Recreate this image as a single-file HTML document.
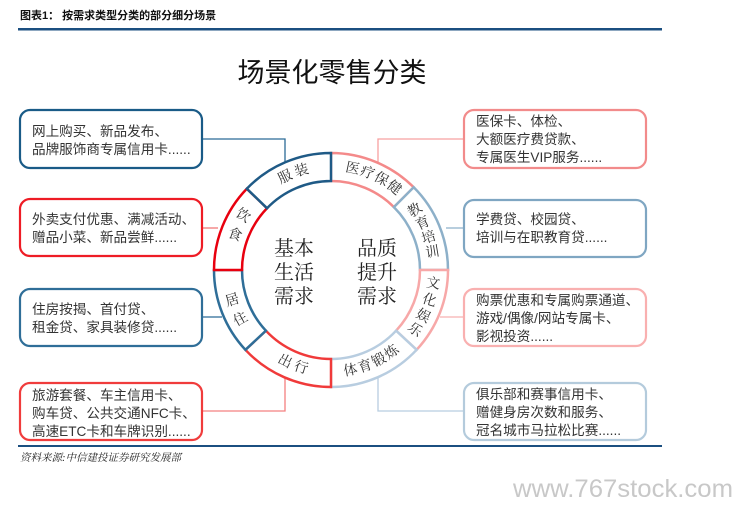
<!DOCTYPE html>
<html><head><meta charset="utf-8"><style>
html,body{margin:0;padding:0;background:#fff;width:735px;height:505px;overflow:hidden}
svg{display:block}
.bx{font-family:"Liberation Sans","Noto Sans CJK SC",sans-serif;font-size:13.6px;fill:#333}
.rg{font-family:"Liberation Serif","Noto Serif CJK SC",serif;font-size:14px;fill:#333}
.ct{font-family:"Liberation Serif","Noto Serif CJK SC",serif;font-size:20px;fill:#222}
</style></head><body>
<svg width="735" height="505" xmlns="http://www.w3.org/2000/svg">
<text x="20" y="19" font-family="Liberation Sans,Noto Sans CJK SC,sans-serif" font-size="11" font-weight="bold" fill="#111">图表1：  按需求类型分类的部分细分场景</text>
<rect x="18" y="28" width="644" height="2.5" fill="#1b4f80"/>
<text x="332" y="82" text-anchor="middle" font-family="Liberation Sans,Noto Sans CJK SC,sans-serif" font-size="27" fill="#111">场景化零售分类</text>

<g fill="none" stroke-width="1.3">
<polyline points="202,139 285,139 285,163" stroke="#2b6a96"/>
<polyline points="378,163 378,139 464,139" stroke="#f7a0a0"/>
<line x1="202" y1="228" x2="218" y2="228" stroke="#f27a7a"/>
<line x1="202" y1="317" x2="222" y2="317" stroke="#2b6a96"/>
<line x1="446" y1="228" x2="464" y2="228" stroke="#8db0c9"/>
<line x1="440" y1="317" x2="464" y2="317" stroke="#f7b0b0"/>
<polyline points="202,411 285,411 285,377" stroke="#f48080"/>
<polyline points="378,377 378,411 464,411" stroke="#b8cde0"/>
</g>

<g fill="#fff" stroke-width="2.2">
<rect x="20" y="110" width="182" height="58" rx="10" stroke="#1a5b87"/>
<rect x="20" y="199" width="182" height="57" rx="10" stroke="#ee1c25"/>
<rect x="20" y="289" width="182" height="57" rx="10" stroke="#2f6e98"/>
<rect x="20" y="383" width="182" height="57" rx="10" stroke="#f03c3c"/>
<rect x="464" y="110" width="182" height="58" rx="10" stroke="#f28b8b"/>
<rect x="464" y="200" width="182" height="57" rx="10" stroke="#7fa6c2"/>
<rect x="464" y="289" width="182" height="57" rx="10" stroke="#f9b0b0"/>
<rect x="464" y="383" width="182" height="57" rx="10" stroke="#b4cbdc"/>
</g>
<g class="bx">
<text x="32" y="136">网上购买、新品发布、</text>
<text x="32" y="154">品牌服饰商专属信用卡......</text>
<text x="32" y="224">外卖支付优惠、满减活动、</text>
<text x="32" y="242">赠品小菜、新品尝鲜......</text>
<text x="32" y="314">住房按揭、首付贷、</text>
<text x="32" y="332">租金贷、家具装修贷......</text>
<text x="32" y="400">旅游套餐、车主信用卡、</text>
<text x="32" y="418">购车贷、公共交通NFC卡、</text>
<text x="32" y="436">高速ETC卡和车牌识别......</text>
<text x="476" y="126">医保卡、体检、</text>
<text x="476" y="144">大额医疗费贷款、</text>
<text x="476" y="162">专属医生VIP服务......</text>
<text x="476" y="224">学费贷、校园贷、</text>
<text x="476" y="242">培训与在职教育贷......</text>
<text x="476" y="305">购票优惠和专属购票通道、</text>
<text x="476" y="323">游戏/偶像/网站专属卡、</text>
<text x="476" y="341">影视投资......</text>
<text x="476" y="399">俱乐部和赛事信用卡、</text>
<text x="476" y="417">赠健身房次数和服务、</text>
<text x="476" y="435">冠名城市马拉松比赛......</text>
</g>

<g fill="#fff" stroke-width="2.5" stroke-linejoin="miter">
<path d="M331,153 A117,117 0 0 1 413.7,187.3 L393.9,207.1 A89,89 0 0 0 331,181 Z" stroke="#f48a8a"/>
<path d="M413.7,187.3 A117,117 0 0 1 448,270 L420,270 A89,89 0 0 0 393.9,207.1 Z" stroke="#8db0c9"/>
<path d="M448,270 A117,117 0 0 1 416.6,349.8 L396.1,330.7 A89,89 0 0 0 420,270 Z" stroke="#f7a8a8"/>
<path d="M416.6,349.8 A117,117 0 0 1 331,387 L331,359 A89,89 0 0 0 396.1,330.7 Z" stroke="#b8cde0"/>
<path d="M331,387 A117,117 0 0 1 245.4,349.8 L265.9,330.7 A89,89 0 0 0 331,359 Z" stroke="#f03a3a"/>
<path d="M245.4,349.8 A117,117 0 0 1 214,270 L242,270 A89,89 0 0 0 265.9,330.7 Z" stroke="#2f6e98"/>
<path d="M214,270 A117,117 0 0 1 246.8,188.7 L267,208.2 A89,89 0 0 0 242,270 Z" stroke="#e8000f"/>
<path d="M246.8,188.7 A117,117 0 0 1 331,153 L331,181 A89,89 0 0 0 267,208.2 Z" stroke="#1f5a86"/>
</g>
<g class="rg" text-anchor="middle" dominant-baseline="central">
<text transform="translate(285.5,177.8) rotate(-26)">服</text>
<text transform="translate(301.8,171.3) rotate(-16.5)">装</text>
<text transform="translate(352.4,169.3) rotate(12)">医</text>
<text transform="translate(367.1,173.5) rotate(20.5)">疗</text>
<text transform="translate(380.9,179.9) rotate(29)">保</text>
<text transform="translate(393.7,188.3) rotate(37.5)">健</text>
<text transform="translate(415.4,210.9) rotate(-35)">教</text>
<text transform="translate(423.2,224.0) rotate(-26.5)">育</text>
<text transform="translate(429.0,238.2) rotate(-18)">培</text>
<text transform="translate(432.6,253.0) rotate(-9.5)">训</text>
<text transform="translate(433.0,284.3) rotate(8)">文</text>
<text transform="translate(429.2,301.0) rotate(17.5)">化</text>
<text transform="translate(422.8,316.8) rotate(27)">娱</text>
<text transform="translate(414.3,330.5) rotate(36)">乐</text>
<text transform="translate(350.7,371.1) rotate(-11)">体</text>
<text transform="translate(365.4,367.1) rotate(-19.5)">育</text>
<text transform="translate(379.4,360.9) rotate(-28)">锻</text>
<text transform="translate(392.3,352.8) rotate(-36.5)">炼</text>
<text transform="translate(284.6,362.0) rotate(27)">出</text>
<text transform="translate(300.9,368.5) rotate(17)">行</text>
<text transform="translate(242.7,216.4) rotate(32)">饮</text>
<text transform="translate(234.6,235.5) rotate(19)">食</text>
<text transform="translate(232.5,301.1) rotate(-17)">居</text>
<text transform="translate(240.9,319.9) rotate(-29)">住</text>
</g>
<g class="ct">
<text x="274" y="255">基本</text>
<text x="274" y="279">生活</text>
<text x="274" y="303">需求</text>
<text x="357" y="255">品质</text>
<text x="357" y="279">提升</text>
<text x="357" y="303">需求</text>
</g>

<rect x="18" y="445" width="644" height="2" fill="#1b4f80"/>
<text x="20" y="461" font-family="Liberation Serif,Noto Serif CJK SC,serif" font-size="10.5" font-style="italic" fill="#222">资料来源:中信建投证券研究发展部</text>
<text x="513" y="497" font-family="Liberation Sans,sans-serif" font-size="25" fill="#c8c8c8" textLength="220" lengthAdjust="spacingAndGlyphs">www.767stock.com</text>
</svg>
</body></html>
